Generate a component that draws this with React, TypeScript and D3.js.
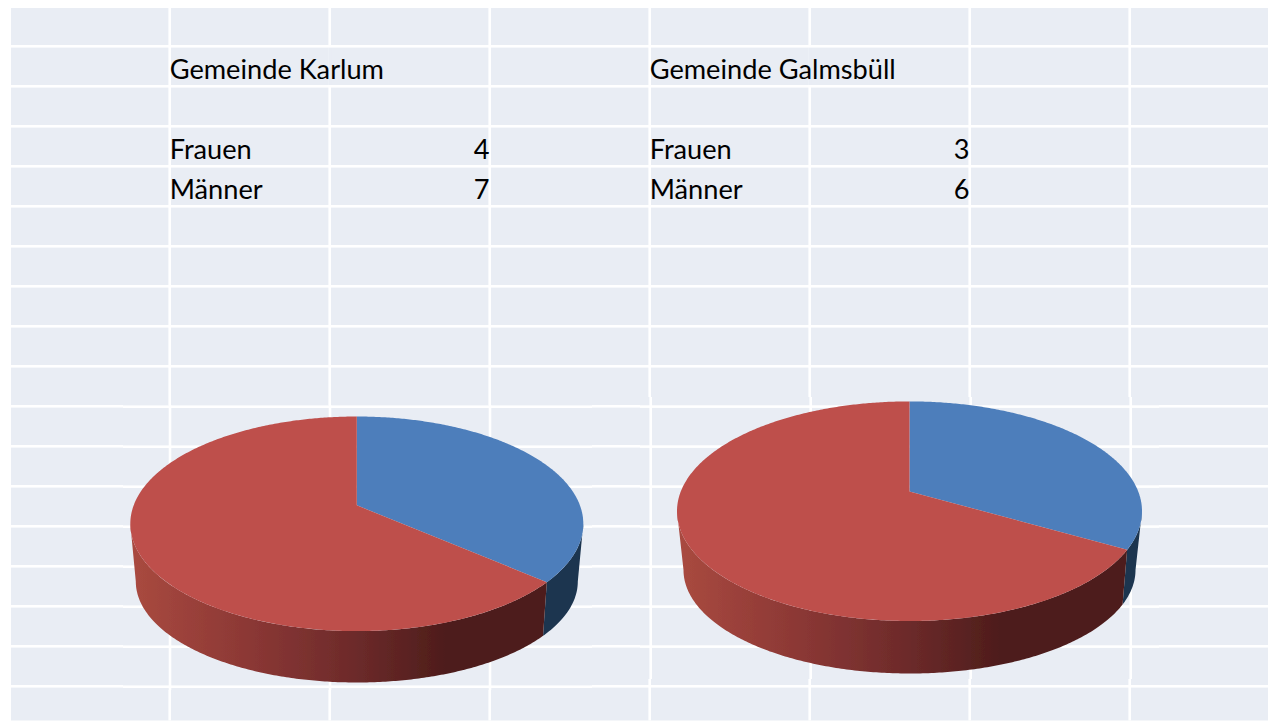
import React from "react";
import * as d3 from "d3";

const categories = ["Frauen", "Männer"];
const karlumValues = [4, 7];
const galmsbuellValues = [3, 6];
const townNames = ["Gemeinde Karlum", "Gemeinde Galmsbüll"];

const W = 1268, H = 721;
const COL = { panel: "#E9EDF4", blue: "#4D7EBB", blueSide: "#1C3550", red: "#BE4F4C", text: "#000" };
const FONT = "Lato, Carlito, Calibri, sans-serif";

type Ell = { cx: number; cy: number; rx: number; ry: number; k: number };

// circle -> ellipse homography: keeps the outline an ellipse, moves the pie's centre off the ellipse's centre
const project = (e: Ell, a: number): [number, number] => {
  const u = Math.sin(a), v = -Math.cos(a), d = 1 + e.k * v;
  return [e.cx + (e.rx * u * Math.sqrt(1 - e.k * e.k)) / d, e.cy + (e.ry * (v + e.k)) / d];
};
const arcPts = (e: Ell, a0: number, a1: number) => {
  const n = Math.max(2, Math.ceil(Math.abs(a1 - a0) / 0.01));
  return d3.range(n + 1).map((i) => project(e, a0 + ((a1 - a0) * i) / n));
};
const line = d3.line();

function Pie3D({ id, values, top, bottom }: { id: string; values: number[]; top: Ell; bottom: Ell }) {
  const slices = d3.pie<number>().sort(null)(values);
  const rightOf = (e: Ell) => Math.acos(e.k); // where the ellipse is widest
  return (
    <g filter="url(#soft)">
      <defs>
        <linearGradient id={id} gradientUnits="userSpaceOnUse" x1={top.cx - bottom.rx} x2={top.cx + bottom.rx} y1={0} y2={0}>
          <stop offset="0" stopColor="#A8493F" />
          <stop offset="0.25" stopColor="#8C3835" />
          <stop offset="0.5" stopColor="#6C2A2A" />
          <stop offset="0.7" stopColor="#4E1D1B" />
          <stop offset="1" stopColor="#4E1D1B" />
        </linearGradient>
      </defs>
      {slices.map((s, i) => {
        const tr = rightOf(top), br = rightOf(bottom);
        const clip = (e: number) => [Math.max(s.startAngle, e), Math.min(s.endAngle, 2 * Math.PI - e)];
        const [t0, t1] = clip(tr), [b0, b1] = clip(br);
        if (t1 <= t0) return null;
        const pts = [...arcPts(top, t0, t1), ...arcPts(bottom, b1, b0)];
        return <path key={"side" + i} d={line(pts) + "Z"} fill={i === 0 ? COL.blueSide : `url(#${id})`} />;
      })}
      {slices.map((s, i) => {
        const pts = [[top.cx, top.cy + top.ry * top.k] as [number, number], ...arcPts(top, s.startAngle, s.endAngle)];
        return <path key={"top" + i} d={line(pts) + "Z"} fill={i === 0 ? COL.blue : COL.red} />;
      })}
    </g>
  );
}

const colX = d3.range(7).map((i) => 169.7 + 160 * i);
const rowY = d3.range(17).map((i) => 46.3 + 40 * i);

function Grid() {
  return (
    <g>
      <rect x={11} y={8} width={W - 11} height={712.5} fill={COL.panel} />
      {rowY.map((y) => (
        <rect key={y} x={11} y={y - 1.3} width={W - 11} height={2.6} fill="#fff" />
      ))}
      {colX.map((x) => (
        <rect key={x} x={x - 1.3} y={8} width={2.6} height={712.5} fill="#fff" />
      ))}
      {[colX[1], colX[4]].map((x) => (
        <rect key={x} x={x - 1.4} y={rowY[0] + 1.3} width={2.8} height={37.4} fill={COL.panel} />
      ))}
    </g>
  );
}

export default function App() {
  const fs = 27.2;
  const blocks = [
    { name: townNames[0], values: karlumValues, x: colX[0], r: colX[2] - 0.2 },
    { name: townNames[1], values: galmsbuellValues, x: colX[3], r: colX[5] - 0.2 },
  ];
  return (
    <svg width={W} height={H} style={{ position: "absolute", left: 0, top: 0, display: "block", background: "#fff" }}>
      <defs>
        <clipPath id="o1"><rect x={123} y={405} width={469} height={285} /></clipPath>
        <clipPath id="o2"><rect x={640} y={397} width={519} height={282} /></clipPath>
        <filter id="soft" x="-5%" y="-5%" width="110%" height="110%">
          <feGaussianBlur stdDeviation="0.5" />
        </filter>
      </defs>
      <Grid />
      <g clipPath="url(#o1)"><g transform="translate(0.3,0.4)"><Grid /></g></g>
      <g clipPath="url(#o2)"><g transform="translate(1,0.3)"><Grid /></g></g>
      {blocks.map((b) => (
        <g key={b.name} fontFamily={FONT} fontSize={fs} fill={COL.text}>
          <text x={b.x} y={79.3}>{b.name}</text>
          {categories.map((c, i) => (
            <g key={c}>
              <text x={b.x} y={159.2 + 40 * i}>{c}</text>
              <text x={b.r} y={159.2 + 40 * i} textAnchor="end">{b.values[i]}</text>
            </g>
          ))}
        </g>
      ))}
      <Pie3D
        id="g1"
        values={karlumValues}
        top={{ cx: 356.8, cy: 523.8, rx: 226.5, ry: 107.3, k: -0.172 }}
        bottom={{ cx: 356.8, cy: 581.5, rx: 221, ry: 101, k: -0.18 }}
      />
      <Pie3D
        id="g2"
        values={galmsbuellValues}
        top={{ cx: 909.5, cy: 511.2, rx: 232.5, ry: 109.8, k: -0.18 }}
        bottom={{ cx: 909.5, cy: 570, rx: 226, ry: 103.5, k: -0.2 }}
      />
    </svg>
  );
}
